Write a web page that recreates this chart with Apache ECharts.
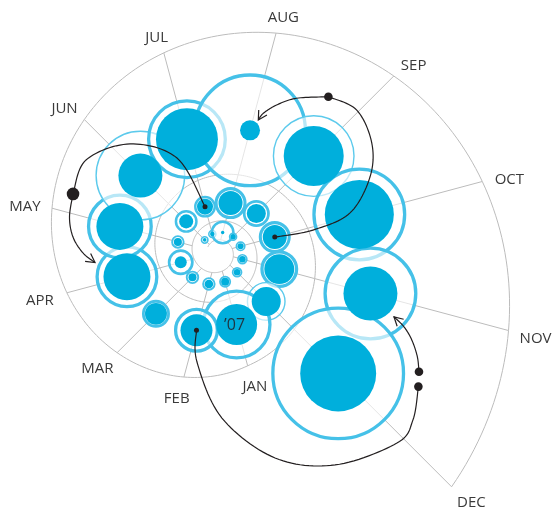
<!DOCTYPE html>
<html>
<head>
<meta charset="UTF-8">
<title>Spiral</title>
<script src="https://cdn.jsdelivr.net/npm/echarts@6/dist/echarts.min.js"></script>
<style>html,body{margin:0;padding:0;background:#fff;}</style>
</head>
<body>
<div id="main" style="width:555px;height:517px;"></div>
<script type="text/javascript">
// months on the spiral, oldest first
var months = ['2005-06', '2005-07', '2005-08', '2005-09', '2005-10', '2005-11', '2005-12',
    '2006-01', '2006-02', '2006-03', '2006-04', '2006-05', '2006-06', '2006-07', '2006-08', '2006-09', '2006-10', '2006-11', '2006-12',
    '2007-01', '2007-02', '2007-03', '2007-04', '2007-05', '2007-06', '2007-07', '2007-08', '2007-09', '2007-10', '2007-11', '2007-12'];
// filled disc (area units)
var solid = [0.8, 1.3, 0.7, 1.8, 2.3, 2.7, 2.7,
    4, 4.6, 4, 9, 4, 12.3, 16, 36, 22.6, 36, 56, 52.6,
    105, 64, 30, 138, 138, 121, 240, 25, 225, 298, 182, 361];
// outer ring (area units)
var ring = [4, 4.6, 36, 4.6, 6.3, 7, 7,
    9, 11.2, 11.2, 42, 11.2, 33, 30, 64, 45.6, 64, 90, 95,
    306, 127, 49, 248, 272, 506, 400, 812, 420, 552, 552, 1122];
// rings drawn as thin lines
var lightRing = ['2006-12', '2007-06', '2007-09'];
var monthNames = ['JAN', 'FEB', 'MAR', 'APR', 'MAY', 'JUN', 'JUL', 'AUG', 'SEP', 'OCT', 'NOV', 'DEC'];
var yearLabel = {month: '2007-01', text: '’07'};

// annotation paths: month key = circle centre, [radius, angle] = free point
var notes = [
    {path: ['2006-07', [102.7, 336.9], [139.3, 321.2], [160.6, 305.2], [155.7, 292.1]], start: 2.5, end: 6.3},
    {path: [[155.7, 292.1], [152, 283.5], [145.1, 276.1], [134.3, 269.8], [122.7, 265.3]], arrow: true},
    {path: ['2006-10', [98.3, 76.8], [138.5, 73.4], [170.3, 63.7], [189.3, 54.7], [199.3, 44.4], [191.3, 35.5]], start: 2.5, end: 4.3},
    {path: [[191.3, 35.5], [173.4, 27.2], [159, 21.9], [146.6, 18.3], [138.7, 17.2]], arrow: true},
    {path: ['2007-02', [111.4, 190.5], [165.6, 178.4], [213.4, 164.3], [242.9, 151], [261.9, 136.7], [257.6, 130.6], [241.7, 123.7]], start: 2.5, end: 4.3},
    {path: [[234.3, 120.6], [225.5, 117.5], [213.2, 114.2], [200.9, 111.7], [188, 110]], start: 4.3, arrow: true}
];

// spiral layout
var R0 = 74.6, G = 1.0783, OUT0 = 117.3, GOUT = 1.099;

function monthK(key) {
    var p = key.split('-');
    return (+p[0] - 2007) * 12 + (+p[1] - 1);
}
function ang(k) {
    return ((165 + 30 * k) % 360 + 360) % 360;
}
function rc(k) {
    return R0 * Math.pow(G, k);
}
function rb(k) {
    return k <= 0 ? R0 * Math.pow(G, k + 6) : OUT0 * Math.pow(GOUT, k);
}
function pos(k) {
    return [rc(k), ang(k)];
}

var ringData = [], solidData = [];
months.forEach(function (m, i) {
    var k = monthK(m);
    var r = 2 * Math.sqrt(ring[i]);
    var thin = lightRing.indexOf(m) >= 0;
    var bw = thin ? 1.4 : Math.min(3.3, 1 + 0.13 * r);
    ringData.push({
        value: pos(k), symbolSize: 2 * r - bw,
        itemStyle: {borderWidth: bw, borderColor: thin ? '#5ccaec' : '#45c1e8'}
    });
    solidData.push({value: pos(k), symbolSize: 4 * Math.sqrt(solid[i])});
});

function smooth(pts) {
    var out = [];
    for (var i = 0; i < pts.length - 1; i++) {
        var p0 = pts[i - 1] || pts[i], p1 = pts[i], p2 = pts[i + 1], p3 = pts[i + 2] || pts[i + 1];
        for (var s = 0; s < 14; s++) {
            var t = s / 14, t2 = t * t, t3 = t2 * t;
            var q = [0, 1].map(function (d) {
                return 0.5 * (2 * p1[d] + (-p0[d] + p2[d]) * t + (2 * p0[d] - 5 * p1[d] + 4 * p2[d] - p3[d]) * t2 +
                    (-p0[d] + 3 * p1[d] - 3 * p2[d] + p3[d]) * t3);
            });
            out.push(q);
        }
    }
    out.push(pts[pts.length - 1]);
    return out;
}

var chart = echarts.init(document.getElementById('main'));
chart.setOption({
    animation: false,
    polar: {center: [217.3, 252.5], radius: 400},
    radiusAxis: {type: 'value', min: 0, max: 400, show: false},
    angleAxis: {type: 'value', min: 0, max: 360, startAngle: 90, clockwise: true, show: false},
    series: [
        {
            // grey spiral grid
            type: 'custom', coordinateSystem: 'polar', silent: true, z: 1,
            data: [[0, 0]],
            renderItem: function (params, api) {
                var children = [];
                var pts = [];
                for (var t = -31.5; t <= 11.0001; t += 0.05) {
                    pts.push(api.coord([rb(t), ang(t)]));
                }
                children.push({type: 'polyline', shape: {points: pts}, style: {stroke: '#bcbcbc', lineWidth: 1, fill: 'none'}});
                months.forEach(function (m) {
                    var k = monthK(m);
                    var a = api.coord([rb(k - 12), ang(k)]), b = api.coord([rb(k), ang(k)]);
                    children.push({type: 'line', shape: {x1: a[0], y1: a[1], x2: b[0], y2: b[1]},
                        style: {stroke: '#bcbcbc', lineWidth: 1}});
                });
                return {type: 'group', children: children};
            }
        },
        {
            type: 'scatter', coordinateSystem: 'polar', z: 2, silent: true,
            symbol: 'circle',
            itemStyle: {color: 'rgba(255,255,255,0.62)', opacity: 1},
            data: ringData
        },
        {
            type: 'scatter', coordinateSystem: 'polar', z: 3, silent: true,
            symbol: 'circle',
            itemStyle: {color: '#00afdc', opacity: 1},
            data: solidData
        },
        {
            // annotation arrows and labels
            type: 'custom', coordinateSystem: 'polar', silent: true, z: 4,
            data: [[0, 0]],
            renderItem: function (params, api) {
                var children = [];
                var ink = '#231f20';
                notes.forEach(function (n) {
                    var pts = n.path.map(function (p) {
                        return typeof p === 'string' ? api.coord(pos(monthK(p))) : api.coord(p);
                    });
                    var line = smooth(pts);
                    children.push({type: 'polyline', shape: {points: line}, style: {stroke: ink, lineWidth: 1.2, fill: 'none'}});
                    if (n.start) {
                        children.push({type: 'circle', shape: {cx: pts[0][0], cy: pts[0][1], r: n.start}, style: {fill: ink}});
                    }
                    if (n.end) {
                        var e = pts[pts.length - 1];
                        children.push({type: 'circle', shape: {cx: e[0], cy: e[1], r: n.end}, style: {fill: ink}});
                    }
                    if (n.arrow) {
                        var tip = line[line.length - 1], prev = line[line.length - 5];
                        var th = Math.atan2(tip[1] - prev[1], tip[0] - prev[0]);
                        var L = 10, w = 0.5;
                        var p1 = [tip[0] - L * Math.cos(th - w), tip[1] - L * Math.sin(th - w)];
                        var p2 = [tip[0] - L * Math.cos(th + w), tip[1] - L * Math.sin(th + w)];
                        children.push({type: 'polyline', shape: {points: [p1, tip, p2]}, style: {stroke: ink, lineWidth: 1.2, fill: 'none'}});
                    }
                });
                // month labels just beyond the ends of the outer radial lines
                monthNames.forEach(function (name, i) {
                    var a = ang(i) * Math.PI / 180;
                    var dx = Math.sin(a), dy = -Math.cos(a);
                    var end = api.coord([rb(i), ang(i)]);
                    var x = end[0] + dx * 13 + dx * 15;
                    var y = end[1] + dy * 13 + dy * 6 + 3;
                    children.push({type: 'text', x: x, y: y,
                        style: {text: name, fill: '#3a3a3a', font: '15px "Open Sans"', align: 'center', verticalAlign: 'middle'}});
                });
                var yc = api.coord(pos(monthK(yearLabel.month)));
                children.push({type: 'text', x: yc[0] - 2, y: yc[1] + 1,
                    style: {text: yearLabel.text, fill: '#1f3440', font: '16px "Open Sans"', align: 'center', verticalAlign: 'middle'}});
                return {type: 'group', children: children};
            }
        }
    ]
});
</script>
</body>
</html>
